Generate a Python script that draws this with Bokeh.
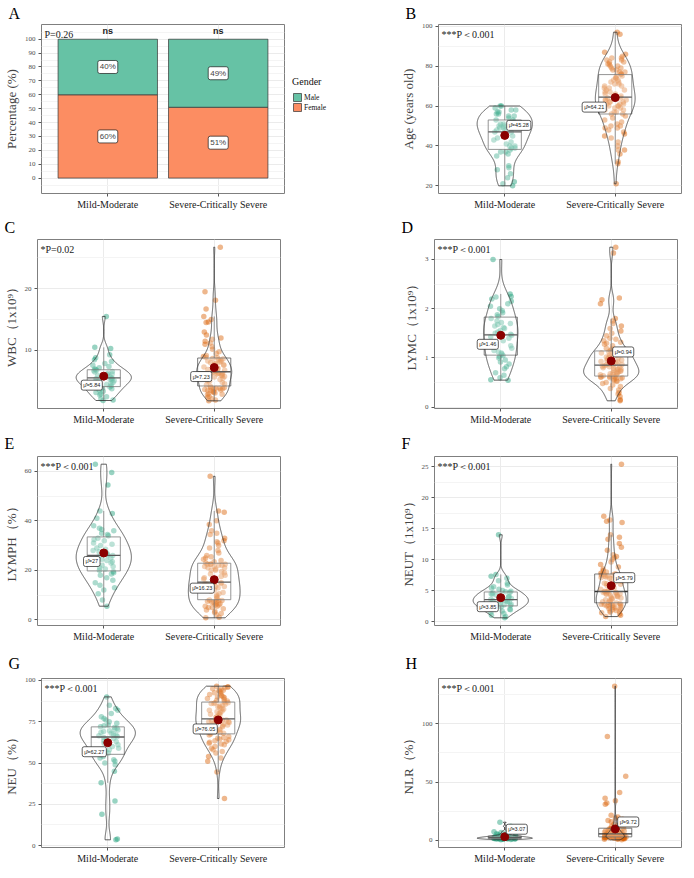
import numpy as np
from bokeh.plotting import figure
from bokeh.layouts import column, row
from bokeh.models import Range1d, FixedTicker, Label, Legend, LegendItem, ColumnDataSource, Title
from bokeh.transform import jitter
from bokeh.embed import file_html
from bokeh.resources import INLINE

# ---------------- data ----------------
categories = ["Mild-Moderate", "Severe-Critically Severe"]
gender_levels = ["Male", "Female"]
female_pct = [60, 51]
male_pct = [40, 49]
pct_ticks = [0, 10, 20, 30, 40, 50, 60, 70, 80, 90, 100]
gender_p = "P=0.26"
gender_sig = ["ns", "ns"]

age_mild = [20, 21, 22, 24, 26, 28, 29, 30, 35, 36, 37, 37, 38, 39, 39, 40, 40, 41, 42, 43,
            44, 45, 45, 46, 47, 47, 48, 48, 49, 49, 50, 50, 51, 51, 52, 52, 53, 53, 54, 55,
            55, 56, 56, 57, 57, 58, 58, 59, 60, 60]
age_severe = [21, 31, 32, 36, 38, 38, 40, 42, 44, 45, 46, 47, 48, 49, 49, 50, 50, 51, 52, 53, 54, 55,
              56, 56, 57, 57, 58, 58, 59, 59, 60, 60, 60, 61, 61, 61, 62, 62, 62, 63, 63, 63, 64, 64, 64,
              65, 65, 66, 66, 67, 67, 68, 68, 69, 69, 70, 70, 71, 71, 72, 72, 73, 73, 74, 74, 75, 75,
              76, 76, 77, 77, 78, 78, 79, 79, 80, 80, 81, 81, 82, 82, 83, 83, 84, 84, 85, 86, 87, 96, 97]
age_means = [45.28, 64.21]
age_ticks = [20, 40, 60, 80, 100]
age_p = "***P＜0.001"

wbc_mild = [1.9, 2.0, 2.2, 2.5, 2.8, 3.0, 3.2, 3.4, 3.6, 3.8, 3.9, 4.0, 4.1, 4.3, 4.5, 4.6, 4.8, 4.9,
            5.0, 5.1, 5.2, 5.3, 5.4, 5.5, 5.5, 5.6, 5.7, 5.8, 5.9, 6.0, 6.1, 6.2, 6.3, 6.5, 6.6, 6.7,
            6.8, 6.9, 7.0, 7.2, 7.4, 7.6, 7.9, 8.2, 8.5, 8.8, 9.3, 10.3, 10.5, 15.5]
wbc_severe = [1.85, 2.0, 2.2, 2.4, 2.6, 2.8, 2.9, 3.0, 3.1, 3.2, 3.3, 3.4, 3.5, 3.5, 3.6, 3.7, 3.8, 3.8, 3.9, 3.9, 4.0, 4.0,
              4.2, 4.4, 4.6, 4.8, 5.0, 5.1, 5.3, 5.4, 5.5, 5.6, 5.7, 5.8, 5.9, 6.0, 6.0, 6.1, 6.2, 6.2, 6.3, 6.3, 6.4, 6.4, 6.5,
              6.6, 6.7, 6.8, 6.9, 7.0, 7.1, 7.2, 7.3, 7.4, 7.5, 7.6, 7.7, 7.8, 7.9, 8.0, 8.1, 8.2, 8.3, 8.4, 8.5, 8.6, 8.7,
              8.8, 8.9, 9.0, 9.2, 9.5, 9.8, 10.2, 10.6, 11.0, 11.2, 11.5, 11.8, 12.0, 12.5, 13.0, 14.5, 14.6, 15.0, 15.5,
              16.7, 18.1, 19.5, 26.7]
wbc_means = [5.84, 7.23]
wbc_ticks = [10, 20]
wbc_p = "*P=0.02"

lymc_mild = [0.55, 0.56, 0.6, 0.65, 0.7, 0.78, 0.82, 0.88, 0.92, 0.96, 1.0, 1.03, 1.05, 1.08, 1.1, 1.12, 1.15,
             1.2, 1.25, 1.3, 1.32, 1.35, 1.4, 1.43, 1.46, 1.48, 1.5, 1.53, 1.56, 1.6, 1.62, 1.65, 1.68, 1.7,
             1.72, 1.75, 1.8, 1.84, 1.88, 1.92, 1.96, 2.0, 2.05, 2.1, 2.15, 2.2, 2.24, 2.25, 2.3, 3.0]
lymc_severe = [0.13, 0.15, 0.22, 0.27, 0.3, 0.35, 0.38, 0.42, 0.45, 0.48, 0.5, 0.52, 0.54, 0.55, 0.57, 0.58, 0.59, 0.6, 0.6, 0.61, 0.62, 0.62,
               0.63, 0.64, 0.65, 0.66, 0.67, 0.68, 0.69, 0.7, 0.71, 0.72, 0.73, 0.74, 0.75, 0.76, 0.77, 0.78, 0.79, 0.8, 0.81, 0.82, 0.83, 0.84, 0.85,
               0.86, 0.87, 0.88, 0.9, 0.92, 0.93, 0.95, 0.96, 0.98, 1.0, 1.01, 1.02, 1.04, 1.05, 1.06, 1.07, 1.08, 1.09, 1.1, 1.1, 1.11, 1.12,
               1.15, 1.18, 1.2, 1.25, 1.28, 1.3, 1.32, 1.35, 1.38, 1.4, 1.45, 1.5, 1.55, 1.6, 1.65, 1.7, 1.75, 1.8, 2.1, 2.18, 2.22, 3.13, 3.25]
lymc_means = [1.46, 0.94]
lymc_ticks = [0, 1, 2, 3]
lymc_p = "***P＜0.001"

lymph_mild = [5.5, 8.0, 10.5, 12.0, 13.0, 14.0, 15.0, 16.0, 17.0, 18.0, 18.5, 19.0, 19.5, 20.0, 20.5, 21.0, 21.5,
              22.0, 23.0, 23.5, 24.0, 24.5, 25.0, 25.5, 26.0, 26.0, 26.5, 27.0, 27.5, 28.0, 28.5, 29.0, 30.0, 30.5,
              31.0, 32.0, 32.5, 33.0, 34.0, 34.5, 35.0, 36.0, 36.5, 37.0, 38.0, 41.0, 43.0, 44.0, 54.5, 59.5, 62.9]
lymph_severe = [0.8, 1.0, 2.0, 2.5, 3.0, 3.5, 4.0, 4.5, 5.0, 5.0, 5.5, 5.5, 6.0, 6.0, 6.5, 6.5, 7.0, 7.0, 7.5, 7.5, 7.8, 7.8,
                8.0, 8.5, 9.0, 9.5, 10.0, 10.5, 11.0, 11.5, 12.0, 12.0, 12.5, 12.5, 13.0, 13.0, 13.5, 13.5, 14.0, 14.0, 14.5, 14.5, 14.8, 15.0, 15.0,
                15.5, 16.0, 16.5, 17.0, 17.5, 18.0, 18.5, 19.0, 19.5, 20.0, 20.0, 20.5, 21.0, 21.0, 21.5, 21.5, 22.0, 22.0, 22.5, 22.5, 22.5, 22.5,
                23.0, 23.5, 24.0, 24.5, 25.0, 25.5, 26.0, 27.0, 28.0, 29.0, 30.0, 31.0, 31.5, 32.0, 33.0, 34.5, 35.0, 36.0, 38.5, 40.0, 43.5, 44.0, 58.0]
lymph_means = [27, 16.23]
lymph_ticks = [0, 20, 40, 60]
lymph_p = "***P＜0.001"

neut_mild = [0.6, 0.8, 1.0, 1.3, 1.5, 1.7, 1.9, 2.0, 2.1, 2.2, 2.3, 2.4, 2.5, 2.6, 2.7, 2.8, 2.9, 3.0, 3.1, 3.2,
             3.3, 3.3, 3.4, 3.4, 3.5, 3.6, 3.7, 3.8, 3.9, 4.0, 4.1, 4.2, 4.3, 4.4, 4.5, 4.6, 4.7, 4.8, 4.9, 5.0,
             5.2, 5.4, 5.6, 5.9, 6.2, 6.6, 7.0, 7.3, 7.6, 14.0]
neut_severe = [0.8, 1.0, 1.2, 1.4, 1.5, 1.6, 1.7, 1.8, 1.9, 2.0, 2.1, 2.2, 2.3, 2.4, 2.5, 2.5, 2.6, 2.7, 2.7, 2.8, 2.8, 2.9,
               3.0, 3.1, 3.2, 3.3, 3.4, 3.5, 3.6, 3.7, 3.8, 3.9, 4.0, 4.1, 4.2, 4.3, 4.4, 4.5, 4.5, 4.6, 4.6, 4.7, 4.7, 4.8, 4.8,
               4.9, 5.0, 5.2, 5.4, 5.6, 5.8, 6.0, 6.1, 6.2, 6.4, 6.5, 6.6, 6.8, 6.9, 7.0, 7.1, 7.2, 7.3, 7.4, 7.5, 7.5, 7.6,
               7.7, 7.8, 8.0, 8.2, 8.5, 8.8, 9.2, 9.6, 10.0, 10.3, 10.5, 10.8, 11.5, 12.0, 12.6, 13.3, 13.6, 14.0, 16.0, 16.2, 16.4, 17.0, 25.4]
neut_means = [3.85, 5.79]
neut_ticks = [0, 5, 10, 15, 20, 25]
neut_p = "***P＜0.001"

neu_mild = [3.5, 4.0, 19.0, 27.0, 38.0, 45.0, 49.0, 50.0, 51.0, 52.0, 53.0, 54.0, 55.0, 56.0, 57.0, 58.0, 59.0,
            60.0, 61.0, 62.0, 63.0, 63.5, 64.0, 65.0, 65.5, 66.0, 66.5, 67.0, 67.5, 68.0, 68.5, 69.0, 69.5,
            70.0, 70.5, 71.0, 71.5, 72.0, 72.5, 73.0, 74.0, 75.0, 76.0, 77.0, 78.0, 80.0, 82.0, 83.0, 85.0, 90.0]
neu_severe = [28.5, 44.5, 51.0, 53.0, 54.0, 56.0, 57.0, 58.0, 59.0, 60.0, 61.0, 61.5, 62.0, 62.5, 63.0, 63.5, 64.0, 64.5, 65.0, 65.5, 66.0, 67.0,
              67.5, 68.0, 68.5, 69.0, 69.5, 70.0, 70.5, 71.0, 71.5, 72.0, 72.5, 73.0, 73.5, 74.0, 74.5, 75.0, 75.0, 75.5, 75.5, 76.0, 76.0, 76.5, 76.5,
              77.0, 77.5, 78.0, 78.5, 79.0, 79.5, 80.0, 80.5, 81.0, 81.5, 82.0, 82.5, 83.0, 83.5, 84.0, 84.5, 85.0, 85.5, 86.0, 86.0, 86.5, 86.5,
              87.0, 87.5, 88.0, 88.5, 89.0, 89.5, 90.0, 90.0, 90.5, 91.0, 91.5, 92.0, 92.5, 93.0, 93.5, 94.0, 94.0, 94.5, 95.0, 95.5, 96.0, 96.0, 96.5]
neu_means = [62.27, 76.05]
neu_ticks = [0, 25, 50, 75, 100]
neu_p = "***P＜0.001"

nlr_mild = [0.5, 0.7, 0.8, 0.9, 1.0, 1.1, 1.2, 1.2, 1.3, 1.3, 1.4, 1.5, 1.5, 1.6, 1.7, 1.8, 1.8, 1.9, 2.0, 2.0,
            2.1, 2.1, 2.2, 2.2, 2.3, 2.4, 2.5, 2.6, 2.7, 2.8, 2.9, 3.0, 3.1, 3.2, 3.3, 3.4, 3.5, 3.6, 3.8, 4.0,
            4.3, 4.6, 5.0, 5.5, 6.0, 6.6, 7.3, 8.0, 12.0, 15.5]
nlr_severe = [0.4, 0.8, 1.0, 1.2, 1.4, 1.5, 1.6, 1.7, 1.8, 1.9, 2.0, 2.1, 2.2, 2.3, 2.4, 2.5, 2.5, 2.6, 2.6, 2.7, 2.7, 2.8,
              2.9, 3.0, 3.1, 3.2, 3.3, 3.4, 3.5, 3.6, 3.7, 3.8, 3.9, 4.0, 4.1, 4.2, 4.4, 4.5, 4.6, 4.8, 5.0, 5.1, 5.2, 5.4, 5.5,
              5.6, 5.8, 6.0, 6.2, 6.4, 6.6, 6.8, 7.0, 7.2, 7.4, 7.6, 7.8, 8.0, 8.2, 8.4, 8.6, 8.8, 9.0, 9.3, 9.6, 9.8, 10.0,
              10.5, 11.0, 11.5, 12.0, 12.5, 13.0, 13.5, 14.0, 15.0, 16.0, 17.0, 18.0, 19.0, 20.0, 21.5, 31.0, 32.0, 34.0, 36.0, 41.0,
              55.0, 89.0, 132.2]
nlr_means = [3.07, 9.72]
nlr_ticks = [0, 50, 100]
nlr_p = "***P＜0.001"

# ---------------- style ----------------
SERIF = "Liberation Serif"
SANS = "Liberation Sans"
PT_COLORS = ["#1B9E77", "#D95F02"]
MALE_COL = "#66C2A5"
FEMALE_COL = "#FC8D62"
BOX_COL = "#595959"
FW = 243
FH = 169


def make_fig(col, top, fh, bottom, ylabel, yr, ticks, letter, letter_dy, ptext, right=None):
    left, rgt = (36, 66) if col == 0 else (88, 2)
    if right is not None:
        rgt = right
    p = figure(frame_width=FW, frame_height=fh, min_border_left=left, min_border_right=rgt,
               min_border_top=top, min_border_bottom=bottom,
               x_range=Range1d(0.4, 2.6), y_range=Range1d(*yr),
               output_backend="svg", toolbar_location=None)
    p.title = Title(text=letter, align="left", offset=-33, standoff=letter_dy,
                    text_font=SERIF, text_font_size="16px", text_font_style="normal",
                    text_color="black")
    p.outline_line_color = "#7F7F7F"
    p.outline_line_width = 1
    step = ticks[1] - ticks[0]
    minor = [ticks[0] - step / 2] + [t + step / 2 for t in ticks]
    p.yaxis.ticker = FixedTicker(ticks=ticks, minor_ticks=minor)
    p.xaxis.ticker = FixedTicker(ticks=[1, 2])
    p.xaxis.major_label_overrides = {1: categories[0], 2: categories[1]}
    for ax in (p.xaxis[0], p.yaxis[0]):
        ax.axis_line_color = None
        ax.major_tick_line_color = "#555555"
        ax.major_tick_out = 3
        ax.major_tick_in = 0
        ax.minor_tick_line_color = None
        ax.major_label_standoff = 2
    p.yaxis.major_label_text_font = SERIF
    p.yaxis.major_label_text_font_size = "7px"
    p.yaxis.major_label_text_color = "#4D4D4D"
    p.xaxis.major_label_text_font = SERIF
    p.xaxis.major_label_text_font_size = "10px"
    p.xaxis.major_label_text_color = "#1A1A1A"
    p.yaxis.axis_label = ylabel
    p.yaxis.axis_label_text_font = SERIF
    p.yaxis.axis_label_text_font_size = "13px"
    p.yaxis.axis_label_text_font_style = "normal"
    p.yaxis.axis_label_standoff = 3
    p.xgrid.grid_line_color = "#EBEBEB"
    p.ygrid.grid_line_color = "#EBEBEB"
    p.ygrid.minor_grid_line_color = "#F4F4F4"
    p.add_layout(Label(x=0.4, y=yr[1], x_offset=3, y_offset=-4, text=ptext,
                       text_font=SERIF, text_font_size="10px", text_baseline="top",
                       text_color="#1A1A1A"))
    return p


def nrd0(a):
    sd = a.std(ddof=1)
    q75, q25 = np.percentile(a, [75, 25])
    lo = min(sd, (q75 - q25) / 1.34)
    if lo <= 0:
        lo = sd
    return 0.9 * lo * len(a) ** -0.2


def data_range(groups):
    allv = np.concatenate([np.asarray(g, float) for g in groups])
    lo, hi = allv.min(), allv.max()
    pad = 0.05 * (hi - lo)
    return (lo - pad, hi + pad)


def violin_panel(col, top, fh, bottom, ylabel, groups, means, ticks, letter, letter_dy, ptext, offsets):
    yr = data_range(groups)
    p = make_fig(col, top, fh, bottom, ylabel, yr, ticks, letter, letter_dy, ptext)
    arrs = [np.asarray(g, float) for g in groups]
    dens = []
    for a in arrs:
        bw = nrd0(a)
        ys = np.linspace(a.min(), a.max(), 400)
        d = np.exp(-0.5 * ((ys[:, None] - a[None, :]) / bw) ** 2).sum(1) / (len(a) * bw * np.sqrt(2 * np.pi))
        dens.append((ys, d))
    dmax = max(d.max() for _, d in dens)
    for i, a in enumerate(arrs):
        src = ColumnDataSource(dict(x=[i + 1] * len(a), y=list(a)))
        p.scatter(x=jitter("x", width=0.2, range=p.x_range), y="y", source=src, size=5.5,
                  fill_color=PT_COLORS[i], fill_alpha=0.45, line_color=None)
    for i, a in enumerate(arrs):
        xc = i + 1
        q1, med, q3 = np.percentile(a, [25, 50, 75])
        iqr = q3 - q1
        lo = a[a >= q1 - 1.5 * iqr].min()
        hi = a[a <= q3 + 1.5 * iqr].max()
        p.segment(x0=[xc, xc], y0=[q3, q1], x1=[xc, xc], y1=[hi, lo], line_color=BOX_COL, line_width=0.8)
        p.quad(left=[xc - 0.15], right=[xc + 0.15], bottom=[q1], top=[q3], fill_color="white",
               fill_alpha=0.2, line_color=BOX_COL, line_width=0.8)
        p.segment(x0=[xc - 0.15], x1=[xc + 0.15], y0=[med], y1=[med], line_color="#333333", line_width=1.3)
        ys, d = dens[i]
        hw = 0.25 * d / dmax
        xs = np.concatenate([xc - hw, (xc + hw)[::-1]])
        yy = np.concatenate([ys, ys[::-1]])
        p.patch(xs, yy, fill_color="white", fill_alpha=0.2, line_color="#333333", line_width=0.8)
    p.scatter(x=[1, 2], y=means, size=8, fill_color="#8B0000", line_color="#8B0000")
    for i, m in enumerate(means):
        dx, dy = offsets[i]
        p.add_layout(Label(x=i + 1, y=m, x_offset=dx, y_offset=-dy, text=f"μ̂={m:g}",
                           text_align="center", text_baseline="middle", text_font=SANS,
                           text_font_size="5.5px", text_color="#1A1A1A",
                           background_fill_color="white", border_line_color="#1A1A1A",
                           border_line_width=0.7, padding=2, border_radius=2))
    return p


# ---------------- panel A ----------------
pA = make_fig(0, 17, FH, 20, "Percentage (%)", (-11.1, 110.6), pct_ticks, "A", 5, gender_p, right=4)
xs_cat = [1, 2]
male_bottom = female_pct
male_top = [f + m for f, m in zip(female_pct, male_pct)]
rf = pA.vbar(x=xs_cat, bottom=0, top=female_pct, width=0.9, fill_color=FEMALE_COL,
             line_color="#333333", line_width=0.7)
rm = pA.vbar(x=xs_cat, bottom=male_bottom, top=male_top, width=0.9, fill_color=MALE_COL,
             line_color="#333333", line_width=0.7)
for i in range(2):
    for val, base in ((female_pct[i], 0), (male_pct[i], female_pct[i])):
        pA.add_layout(Label(x=i + 1, y=base + val / 2, text=f"{val}%", text_align="center",
                            text_baseline="middle", text_font=SANS, text_font_size="8px",
                            background_fill_color="white", border_line_color="#1A1A1A",
                            border_line_width=0.7, padding=2, border_radius=2))
    pA.add_layout(Label(x=i + 1, y=male_top[i], y_offset=3, text=gender_sig[i], text_align="center",
                        text_baseline="bottom", text_font=SANS, text_font_size="9px",
                        text_font_style="bold", text_color="#222222"))

# legend column between panel A and panel B (hidden copies of the bars; only the legend shows)
LEG_W = 62
ROW1_H = 17 + FH + 20
pLeg = figure(width=LEG_W, height=ROW1_H, min_border=0, x_axis_type=None, y_axis_type=None,
              x_range=Range1d(0.4, 2.6), y_range=Range1d(0, 100),
              output_backend="svg", toolbar_location=None)
pLeg.outline_line_color = None
pLeg.xgrid.visible = False
pLeg.ygrid.visible = False
lf = pLeg.vbar(x=xs_cat, bottom=0, top=female_pct, width=0.9, fill_color=FEMALE_COL,
               line_color="#333333", line_width=0.7, visible=False)
lm = pLeg.vbar(x=xs_cat, bottom=male_bottom, top=male_top, width=0.9, fill_color=MALE_COL,
               line_color="#333333", line_width=0.7, visible=False)
legend = Legend(items=[LegendItem(label=gender_levels[0], renderers=[lm]),
                       LegendItem(label=gender_levels[1], renderers=[lf])],
                title="Gender", location=(4, 74), click_policy="none")
legend.title_text_font = SERIF
legend.title_text_font_size = "10px"
legend.title_text_font_style = "normal"
legend.title_text_color = "#111111"
legend.title_standoff = 5
legend.label_text_font = SERIF
legend.label_text_font_size = "7.5px"
legend.label_text_color = "#111111"
legend.glyph_width = 10
legend.glyph_height = 10
legend.label_height = 10
legend.label_standoff = 2
legend.spacing = 0
legend.padding = 0
legend.margin = 0
legend.border_line_color = None
legend.background_fill_alpha = 0
legend.inactive_fill_alpha = 0
pLeg.add_layout(legend)

pB = violin_panel(1, 17, FH, 20, "Age (years old)", [age_mild, age_severe], age_means, age_ticks,
                  "B", 5, age_p, [(14, -10), (-21, 9.5)])
pC = violin_panel(0, 26, FH, 20, "WBC（1x10⁹）", [wbc_mild, wbc_severe], wbc_means, wbc_ticks,
                  "C", 7, wbc_p, [(-12, 9), (-13, 9)])
pD = violin_panel(1, 26, FH, 20, "LYMC（1x10⁹）", [lymc_mild, lymc_severe], lymc_means, lymc_ticks,
                  "D", 7, lymc_p, [(-13, 9), (12, -9)])
pE = violin_panel(0, 27, FH, 20, "LYMPH（%）", [lymph_mild, lymph_severe], lymph_means, lymph_ticks,
                  "E", 9, lymph_p, [(-12, 8.5), (-12, 8.5)])
pF = violin_panel(1, 27, FH, 20, "NEUT（1x10⁹）", [neut_mild, neut_severe], neut_means, neut_ticks,
                  "F", 9, neut_p, [(-13, 9), (13, -8)])
pG = violin_panel(0, 32, FH, 22, "NEU（%）", [neu_mild, neu_severe], neu_means, neu_ticks,
                  "G", 14, neu_p, [(-13.5, 9), (-13, 9)])
pH = violin_panel(1, 32, FH, 22, "NLR（%）", [nlr_mild, nlr_severe], nlr_means, nlr_ticks,
                  "H", 14, nlr_p, [(12, -7.5), (13, -7)])

layout = column(row(pA, pLeg, pB), row(pC, pD), row(pE, pF), row(pG, pH), spacing=0)
open("out.html", "w").write(file_html(layout, INLINE))
